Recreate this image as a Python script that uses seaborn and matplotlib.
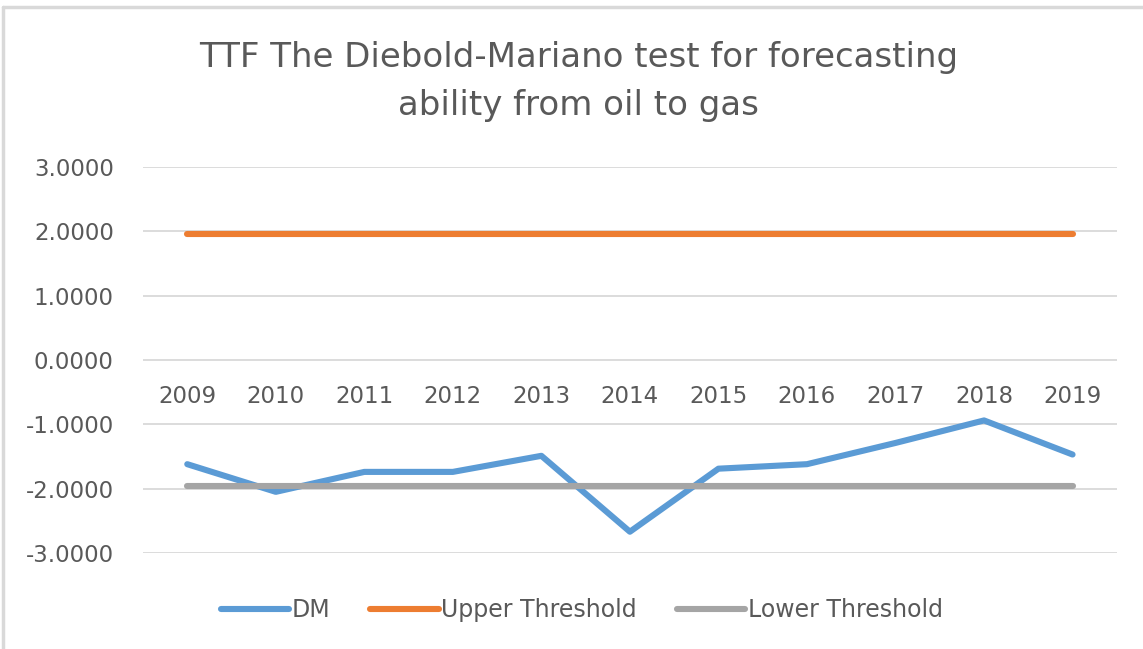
import matplotlib
matplotlib.use("Agg")
import matplotlib.pyplot as plt
import seaborn as sns
import pandas as pd
from matplotlib.lines import Line2D

years = ["2009", "2010", "2011", "2012", "2013", "2014", "2015", "2016", "2017", "2018", "2019"]
dm = [-1.62, -2.05, -1.74, -1.74, -1.49, -2.67, -1.69, -1.62, -1.29, -0.94, -1.47]
upper = [1.96] * len(years)
lower = [-1.96] * len(years)
series_names = ["DM", "Upper Threshold", "Lower Threshold"]
colors = ["#5B9BD5", "#ED7D31", "#A5A5A5"]
title = "TTF The Diebold-Mariano test for forecasting\nability from oil to gas"

sns.set_theme(style="white")
plt.rcParams["font.family"] = ["DejaVu Sans"]
txt = "#595959"

df = pd.concat([
    pd.DataFrame({"x": range(len(years)), "year": years, "value": vals, "series": name})
    for name, vals in zip(series_names, [dm, upper, lower])
])

fig = plt.figure(figsize=(11.43, 6.49), dpi=100)
ax = fig.add_axes([0.1251, 0.148, 0.852, 0.5947])

sns.lineplot(data=df, x="x", y="value", hue="series", palette=colors,
             hue_order=series_names, linewidth=4.4, ax=ax, legend=False,
             solid_capstyle="round", sort=False)

ax.set_xlim(-0.5, len(years) - 0.5)
ax.set_ylim(-3, 3)
ticks = [-3, -2, -1, 0, 1, 2, 3]
ax.set_yticks(ticks)
ax.set_yticklabels([f"{v:.4f}" for v in ticks])
ax.set_xticks(range(len(years)))
ax.set_xticklabels(years)
ax.grid(axis="y", color="#D9D9D9", linewidth=1.3)
ax.set_axisbelow(True)
for s in ax.spines.values():
    s.set_visible(False)
ax.spines["bottom"].set_position(("data", 0))
ax.tick_params(axis="x", length=0, pad=18, labelsize=16.5, labelcolor=txt)
ax.tick_params(axis="y", length=0, pad=21, labelsize=16.5, labelcolor=txt)
ax.set_xlabel("")
ax.set_ylabel("")

fig.text(0.506, 0.874, title, ha="center", va="center", fontsize=24.5,
         color=txt, linespacing=1.58)

handles = [Line2D([0], [0], color=c, lw=4.4, solid_capstyle="round") for c in colors]
fig.legend(handles, series_names, loc="center", bbox_to_anchor=(0.509, 0.06),
           ncol=3, frameon=False, fontsize=17, labelcolor=txt,
           handlelength=2.9, handletextpad=0.1, columnspacing=1.7)

fig.add_artist(Line2D([0.003, 0.003], [0.0, 0.989], transform=fig.transFigure,
                      color="#D9D9D9", linewidth=2.5))
fig.add_artist(Line2D([0.003, 1.0], [0.989, 0.989], transform=fig.transFigure,
                      color="#D9D9D9", linewidth=2.5))

fig.savefig("out.png", dpi=100, facecolor="white")
